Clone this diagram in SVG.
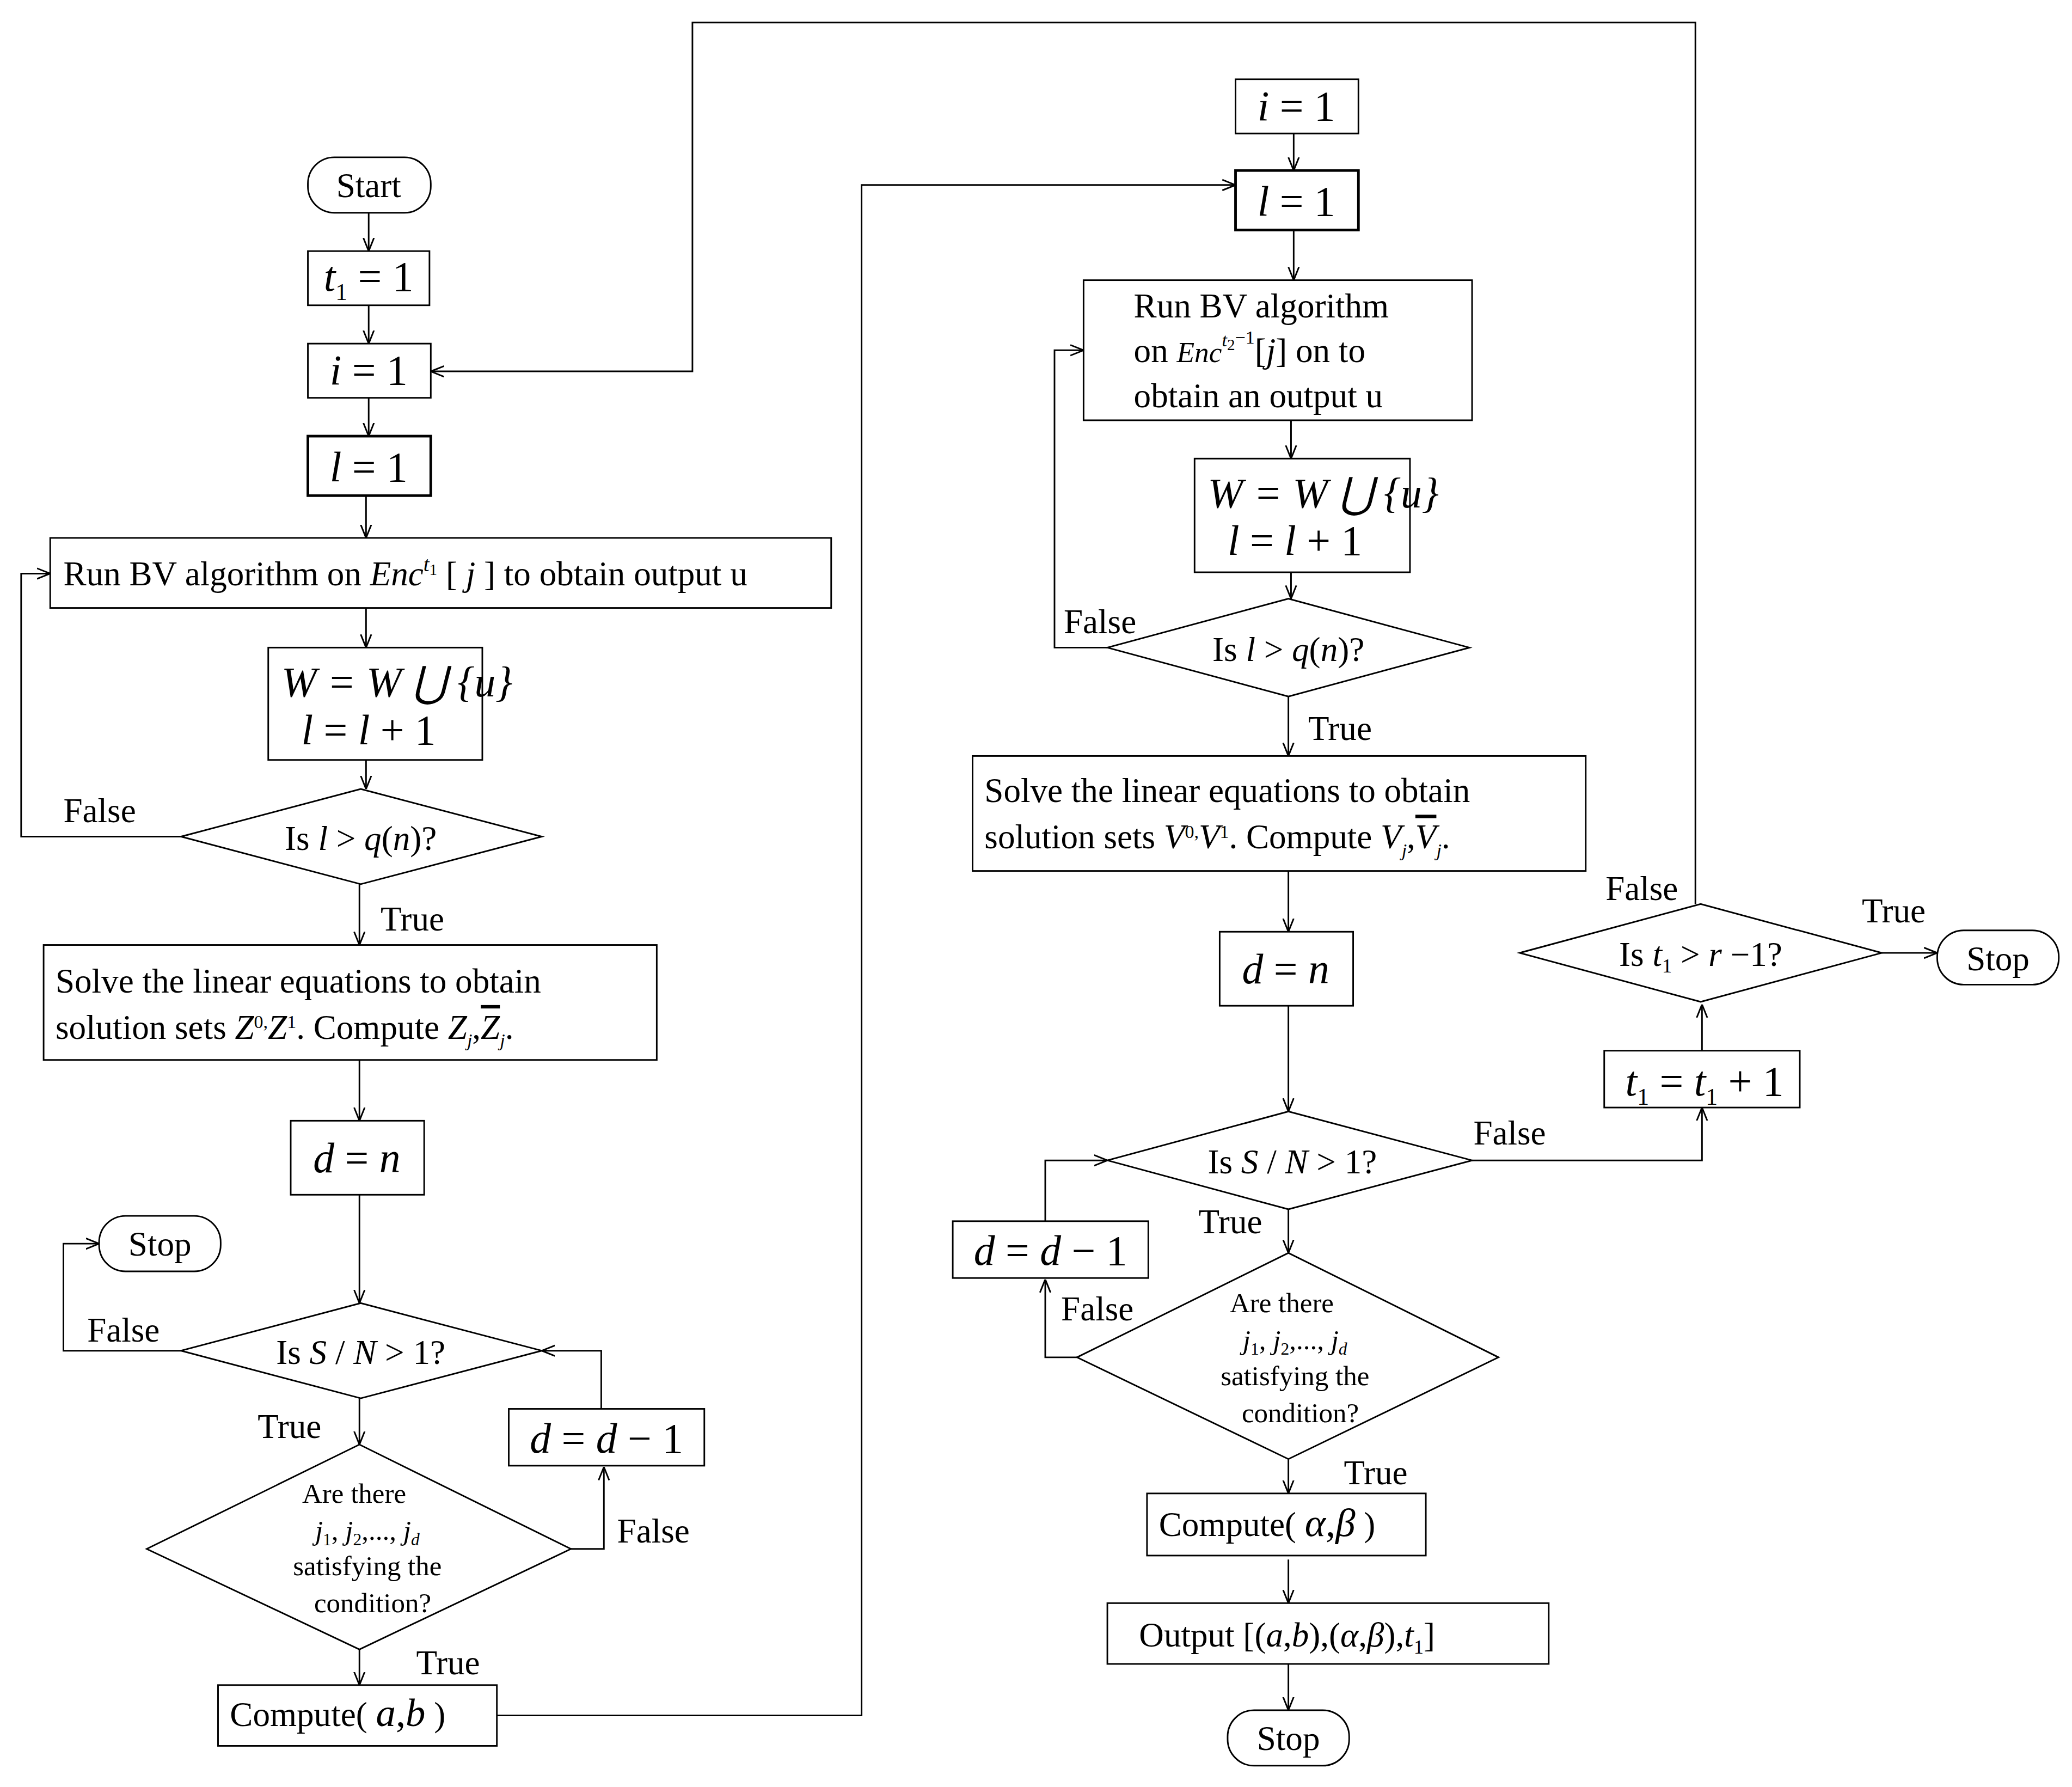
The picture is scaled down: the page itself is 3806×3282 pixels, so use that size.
<svg xmlns="http://www.w3.org/2000/svg" width="3806" height="3282" viewBox="0 0 3806 3282">
<defs>
<marker id="ar" viewBox="0 0 10 10" refX="10" refY="5" markerWidth="10" markerHeight="10" markerUnits="userSpaceOnUse" orient="auto"><path d="M0,1 L10,5 L0,9" fill="none" stroke="#000" stroke-width="1.2"/></marker>
</defs>
<style>
.b{fill:#fff;stroke:#000;stroke-width:1.2}
.tb{fill:#fff;stroke:#000;stroke-width:2}
.c{fill:none;stroke:#000;stroke-width:1.2}
text{font-family:"Liberation Serif",serif;fill:#000}
.t{font-size:26px}
.m{font-size:32px;font-style:italic}
.s{font-size:21px}
.mid{text-anchor:middle}
</style>
<rect width="3806" height="3282" fill="#fff"/>
<g transform="scale(2.4273)">
<g id="connectors">
<path class="c" marker-end="url(#ar)" d="M279,161 V190"/>
<path class="c" marker-end="url(#ar)" d="M279,231 V260"/>
<path class="c" marker-end="url(#ar)" d="M279,301 V330"/>
<path class="c" marker-end="url(#ar)" d="M277,375 V407"/>
<path class="c" marker-end="url(#ar)" d="M277,460 V490"/>
<path class="c" marker-end="url(#ar)" d="M277,575 V597"/>
<path class="c" marker-end="url(#ar)" d="M137,633 H16 V434 H38"/>
<path class="c" marker-end="url(#ar)" d="M272,669 V715"/>
<path class="c" marker-end="url(#ar)" d="M272,802 V848"/>
<path class="c" marker-end="url(#ar)" d="M272,904 V986"/>
<path class="c" marker-end="url(#ar)" d="M137,1022 H48 V941 H75"/>
<path class="c" marker-end="url(#ar)" d="M272,1058 V1093"/>
<path class="c" marker-end="url(#ar)" d="M432,1172 H457 V1110"/>
<path class="c" marker-end="url(#ar)" d="M455,1066 V1022 H410"/>
<path class="c" marker-end="url(#ar)" d="M272,1248 V1275"/>
<path class="c" marker-end="url(#ar)" d="M376,1298 H652 V140 H935"/>
<path class="c" marker-end="url(#ar)" d="M979,101 V129"/>
<path class="c" marker-end="url(#ar)" d="M979,174 V212"/>
<path class="c" marker-end="url(#ar)" d="M977,318 V347"/>
<path class="c" marker-end="url(#ar)" d="M977,433 V453"/>
<path class="c" marker-end="url(#ar)" d="M838,490 H798 V265 H820"/>
<path class="c" marker-end="url(#ar)" d="M975,527 V572"/>
<path class="c" marker-end="url(#ar)" d="M975,659 V705"/>
<path class="c" marker-end="url(#ar)" d="M975,761 V841"/>
<path class="c" marker-end="url(#ar)" d="M1114,878 H1288 V838"/>
<path class="c" marker-end="url(#ar)" d="M1288,795 V760"/>
<path class="c" marker-end="url(#ar)" d="M1424,721 H1466"/>
<path class="c" marker-end="url(#ar)" d="M1283,684 V17 H524 V281 H326"/>
<path class="c" marker-end="url(#ar)" d="M975,915 V948"/>
<path class="c" marker-end="url(#ar)" d="M815,1027 H791 V968"/>
<path class="c" marker-end="url(#ar)" d="M791,924 V878 H838"/>
<path class="c" marker-end="url(#ar)" d="M975,1104 V1130"/>
<path class="c" marker-end="url(#ar)" d="M975,1180 V1213"/>
<path class="c" marker-end="url(#ar)" d="M975,1259 V1294"/>
<g class="t">
<text x="48" y="622">False</text>
<text x="288" y="704">True</text>
<text x="66" y="1015">False</text>
<text x="195" y="1088">True</text>
<text x="467" y="1167">False</text>
<text x="315" y="1267">True</text>
<text x="805" y="479">False</text>
<text x="990" y="560">True</text>
<text x="1115" y="866">False</text>
<text x="1409" y="698">True</text>
<text x="1215" y="681">False</text>
<text x="907" y="933">True</text>
<text x="803" y="999">False</text>
<text x="1017" y="1123">True</text>
</g>
</g>
<g id="start1"><rect class="b" x="233" y="119" width="93" height="42" rx="20"/><text class="t mid" x="279" y="149">Start</text></g>
<g id="t1init"><rect class="b" x="233" y="190" width="92" height="41"/><text class="m" x="245" y="220">t<tspan font-size="18" dy="7" font-style="normal">1</tspan><tspan dy="-7" font-style="normal"> = 1</tspan></text></g>
<g id="i1a"><rect class="b" x="233" y="260" width="93" height="41"/><text class="m mid" x="279" y="291">i <tspan font-style="normal">= 1</tspan></text></g>
<g id="l1a"><rect class="tb" x="233" y="330" width="93" height="45"/><text class="m mid" x="279" y="364">l <tspan font-style="normal">= 1</tspan></text></g>
<g id="bv1"><rect class="b" x="38" y="407" width="591" height="53"/><text class="t" x="48" y="443">Run BV algorithm on <tspan font-style="italic">Enc</tspan><tspan font-style="italic" font-size="16" dy="-11">t</tspan><tspan font-size="12" dy="3">1</tspan><tspan dy="8"> [ </tspan><tspan font-style="italic">j</tspan> ] to obtain output u</text></g>
<g id="w1"><rect class="b" x="203" y="490" width="162" height="85"/><text class="m" x="213" y="527" font-size="30">W = W ⋃ {u}</text><text class="m" x="228" y="563" font-size="30">l <tspan font-style="normal">= </tspan>l<tspan font-style="normal"> + 1</tspan></text></g>
<g id="q1"><polygon class="b" points="137,633 273,597 410,633 273,669"/><text class="t mid" x="273" y="643">Is <tspan font-style="italic">l</tspan> &gt; <tspan font-style="italic">q</tspan>(<tspan font-style="italic">n</tspan>)?</text></g>
<g id="solve1"><rect class="b" x="33" y="715" width="464" height="87"/><text class="t" x="42" y="751">Solve the linear equations to obtain</text><text class="t" x="42" y="786">solution sets  <tspan font-style="italic">Z</tspan><tspan font-size="14" dy="-8">0</tspan><tspan font-size="14" dy="0">,</tspan><tspan dy="8" font-style="italic">Z</tspan><tspan font-size="14" dy="-8">1</tspan><tspan dy="8">. Compute  </tspan><tspan font-style="italic">Z</tspan><tspan font-size="14" dy="6" font-style="italic">j</tspan><tspan dy="-6">,</tspan><tspan font-style="italic" text-decoration="overline">Z</tspan><tspan font-size="14" dy="6" font-style="italic">j</tspan><tspan dy="-6">.</tspan></text></g>
<g id="dn1"><rect class="b" x="220" y="848" width="101" height="56"/><text class="m mid" x="270" y="887">d <tspan font-style="normal">= </tspan>n</text></g>
<g id="stopA"><rect class="b" x="75" y="920" width="92" height="42" rx="20"/><text class="t mid" x="121" y="950">Stop</text></g>
<g id="sn1"><polygon class="b" points="137,1022 273,986 410,1022 273,1058"/><text class="t mid" x="273" y="1032">Is <tspan font-style="italic">S</tspan> / <tspan font-style="italic">N</tspan> &gt; 1?</text></g>
<g id="dd1"><rect class="b" x="385" y="1066" width="148" height="43"/><text class="m mid" x="459" y="1099">d <tspan font-style="normal">= </tspan>d<tspan font-style="normal"> − 1</tspan></text></g>
<g id="are1"><polygon class="b" points="111,1172 272,1093 432,1172 272,1248"/><text class="s mid" x="268" y="1137">Are there</text><text class="s mid" x="278" y="1165" font-style="italic">j<tspan font-size="13" dy="4" font-style="normal">1</tspan><tspan dy="-4" font-style="normal">, </tspan>j<tspan font-size="13" dy="4" font-style="normal">2</tspan><tspan dy="-4" font-style="normal">,..., </tspan>j<tspan font-size="13" dy="4">d</tspan></text><text class="s mid" x="278" y="1192">satisfying the</text><text class="s mid" x="282" y="1220">condition?</text></g>
<g id="cab"><rect class="b" x="165" y="1275" width="211" height="46"/><text class="t" x="174" y="1306">Compute( <tspan font-style="italic" font-size="30">a</tspan><tspan font-size="30">,</tspan><tspan font-style="italic" font-size="30">b</tspan> )</text></g>
<g id="i1b"><rect class="b" x="935" y="60" width="93" height="41"/><text class="m mid" x="981" y="91">i <tspan font-style="normal">= 1</tspan></text></g>
<g id="l1b"><rect class="tb" x="935" y="129" width="93" height="45"/><text class="m mid" x="981" y="163">l <tspan font-style="normal">= 1</tspan></text></g>
<g id="bv2"><rect class="b" x="820" y="212" width="294" height="106"/><text class="t" x="858" y="240">Run BV algorithm</text><text class="t" x="858" y="274">on <tspan font-style="italic" font-size="22">Enc</tspan><tspan font-style="italic" font-size="14" dy="-12">t</tspan><tspan font-size="12" dy="3">2</tspan><tspan font-size="14" dy="-5">−1</tspan><tspan dy="14">[</tspan><tspan font-style="italic">j</tspan>] on to</text><text class="t" x="858" y="308">obtain an output u</text></g>
<g id="w2"><rect class="b" x="904" y="347" width="163" height="86"/><text class="m" x="914" y="384" font-size="30">W = W ⋃ {u}</text><text class="m" x="929" y="420" font-size="30">l <tspan font-style="normal">= </tspan>l<tspan font-style="normal"> + 1</tspan></text></g>
<g id="q2"><polygon class="b" points="838,490 975,453 1112,490 975,527"/><text class="t mid" x="975" y="500">Is <tspan font-style="italic">l</tspan> &gt; <tspan font-style="italic">q</tspan>(<tspan font-style="italic">n</tspan>)?</text></g>
<g id="solve2"><rect class="b" x="736" y="572" width="464" height="87"/><text class="t" x="745" y="607">Solve the linear equations to obtain</text><text class="t" x="745" y="642">solution sets  <tspan font-style="italic">V</tspan><tspan font-size="14" dy="-8">0</tspan><tspan font-size="14">,</tspan><tspan dy="8" font-style="italic">V</tspan><tspan font-size="14" dy="-8">1</tspan><tspan dy="8">. Compute  </tspan><tspan font-style="italic">V</tspan><tspan font-size="14" dy="6" font-style="italic">j</tspan><tspan dy="-6">,</tspan><tspan font-style="italic" text-decoration="overline">V</tspan><tspan font-size="14" dy="6" font-style="italic">j</tspan><tspan dy="-6">.</tspan></text></g>
<g id="dn2"><rect class="b" x="923" y="705" width="101" height="56"/><text class="m mid" x="973" y="744">d <tspan font-style="normal">= </tspan>n</text></g>
<g id="sn2"><polygon class="b" points="838,878 975,841 1114,878 975,915"/><text class="t mid" x="978" y="888">Is <tspan font-style="italic">S</tspan> / <tspan font-style="italic">N</tspan> &gt; 1?</text></g>
<g id="tinc"><rect class="b" x="1214" y="795" width="148" height="43"/><text class="m" x="1230" y="829">t<tspan font-size="18" dy="7" font-style="normal">1</tspan><tspan dy="-7" font-style="normal"> = </tspan>t<tspan font-size="18" dy="7" font-style="normal">1</tspan><tspan dy="-7" font-style="normal"> + 1</tspan></text></g>
<g id="tr"><polygon class="b" points="1150,721 1287,684 1424,721 1287,758"/><text class="t mid" x="1287" y="731">Is <tspan font-style="italic">t</tspan><tspan font-size="15" dy="5">1</tspan><tspan dy="-5"> &gt; </tspan><tspan font-style="italic">r</tspan> −1?</text></g>
<g id="stopB"><rect class="b" x="1466" y="704" width="92" height="41" rx="20"/><text class="t mid" x="1512" y="734">Stop</text></g>
<g id="dd2"><rect class="b" x="721" y="924" width="148" height="43"/><text class="m mid" x="795" y="957">d <tspan font-style="normal">= </tspan>d<tspan font-style="normal"> − 1</tspan></text></g>
<g id="are2"><polygon class="b" points="815,1027 975,948 1134,1027 975,1104"/><text class="s mid" x="970" y="993">Are there</text><text class="s mid" x="980" y="1021" font-style="italic">j<tspan font-size="13" dy="4" font-style="normal">1</tspan><tspan dy="-4" font-style="normal">, </tspan>j<tspan font-size="13" dy="4" font-style="normal">2</tspan><tspan dy="-4" font-style="normal">,..., </tspan>j<tspan font-size="13" dy="4">d</tspan></text><text class="s mid" x="980" y="1048">satisfying the</text><text class="s mid" x="984" y="1076">condition?</text></g>
<g id="cal"><rect class="b" x="868" y="1130" width="211" height="47"/><text class="t" x="877" y="1162">Compute( <tspan font-style="italic" font-size="30">α</tspan><tspan font-size="30">,</tspan><tspan font-style="italic" font-size="30">β</tspan> )</text></g>
<g id="out"><rect class="b" x="838" y="1213" width="334" height="46"/><text class="t" x="862" y="1246">Output [(<tspan font-style="italic">a</tspan>,<tspan font-style="italic">b</tspan>),(<tspan font-style="italic">α</tspan>,<tspan font-style="italic">β</tspan>),<tspan font-style="italic">t</tspan><tspan font-size="15" dy="5">1</tspan><tspan dy="-5">]</tspan></text></g>
<g id="stopC"><rect class="b" x="929" y="1294" width="92" height="42" rx="20"/><text class="t mid" x="975" y="1324">Stop</text></g>
</g>
</svg>
